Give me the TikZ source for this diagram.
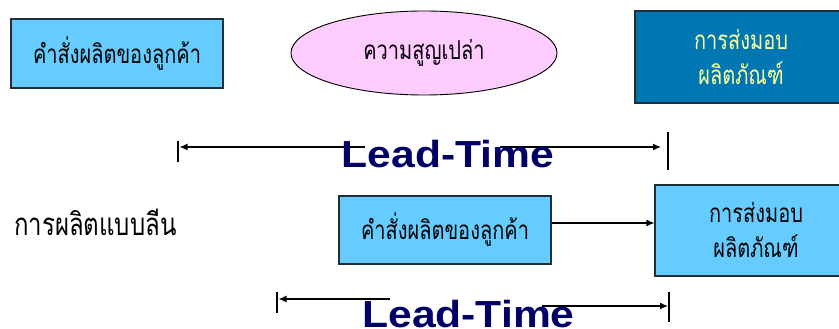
\documentclass[tikz,border=0pt]{standalone}
\usepackage{fontspec}
\setmainfont{Liberation Sans}
\newfontfamily\thaifont[Script=Thai]{Loma}
\usetikzlibrary{arrows.meta,shapes.geometric}

\definecolor{boxblue}{HTML}{66CCFF}
\definecolor{deepblue}{HTML}{0076B2}
\definecolor{wastepink}{HTML}{FFCCFF}
\definecolor{navytext}{HTML}{000066}
\definecolor{paleyellow}{HTML}{FFFF99}
\definecolor{boxedge}{HTML}{1C2F3A}

% Thai labels are set tall and narrow
\newcommand{\talltext}[1]{\scalebox{1}[1.3]{#1}}

\begin{document}
\begin{tikzpicture}[x=1pt,y=-1pt,
  thaitext/.style={font=\thaifont\fontsize{20}{35}\selectfont},
  flowbox/.style={thaitext,draw=boxedge,line width=1.1pt,fill=boxblue,inner sep=0pt,
    align=center},
  deliverbox/.style={thaitext,draw=boxedge,line width=1.1pt,fill=deepblue,inner sep=0pt,
    align=center,text=paleyellow},
  wastebubble/.style={thaitext,ellipse,draw=black,line width=0.9pt,fill=wastepink,
    inner sep=0pt},
  plainlabel/.style={inner sep=0pt,font=\thaifont\fontsize{24}{30}\selectfont},
  leadlabel/.style={inner sep=0pt,anchor=base,text=navytext,
    font=\fontsize{37.7}{40}\selectfont\bfseries},
  tick/.style={line width=1.4pt},
  dimarrow/.style={line width=1.2pt,-{Latex[length=8pt,width=7pt]}},
  flowarrow/.style={line width=1.1pt,-{Latex[length=8pt,width=7pt]}}]
\useasboundingbox (0,0) rectangle (839,329);

% --- conventional flow (top row)
\node[flowbox,minimum width=212pt,minimum height=69pt] (order1) at (117,53.5)
  {\talltext{คำสั่งผลิตของลูกค้า}};
\node[wastebubble,minimum width=266pt,minimum height=84pt] (waste) at (424,53)
  {\talltext{ความสูญเปล่า}};
\node[deliverbox,minimum width=212pt,minimum height=92pt] (deliver1) at (741,57)
  {\talltext{การส่งมอบ}\\\talltext{ผลิตภัณฑ์}};

% lead time of the conventional flow
\coordinate (t1a) at (178,141);
\coordinate (t1b) at (178,162);
\coordinate (t2a) at (668,132);
\coordinate (t2b) at (668,170);
\coordinate (l1s) at (365,147);
\coordinate (l1e) at (179.5,147);
\coordinate (r1s) at (500,147);
\coordinate (r1e) at (661,147);
\draw[tick] (t1a) -- (t1b);
\draw[tick] (t2a) -- (t2b);
\draw[dimarrow] (l1s) -- (l1e);
\draw[dimarrow] (r1s) -- (r1e);
\node[leadlabel] (lead1) at (448,167) {\scalebox{1.13}[1]{Lead-Time}};

% --- lean flow (bottom row)
\node[plainlabel,anchor=west] (leanlabel) at (14,222) {\talltext{การผลิตแบบลีน}};
\node[flowbox,minimum width=212pt,minimum height=68pt] (order2) at (445,230)
  {\talltext{คำสั่งผลิตของลูกค้า}};
\node[flowbox,minimum width=202pt,minimum height=91pt] (deliver2) at (756,230.5)
  {\talltext{การส่งมอบ}\\\talltext{ผลิตภัณฑ์}};
\draw[flowarrow] ([yshift=7pt]order2.east) coordinate (flowstart)
  -- (flowstart -| deliver2.west);

% lead time of the lean flow
\coordinate (t3a) at (277,292);
\coordinate (t3b) at (277,313);
\coordinate (t4a) at (669,292);
\coordinate (t4b) at (669,322);
\coordinate (l2s) at (390,299);
\coordinate (l2e) at (278.5,299);
\coordinate (r2s) at (542,306);
\coordinate (r2e) at (668,306);
\draw[tick] (t3a) -- (t3b);
\draw[tick] (t4a) -- (t4b);
\draw[dimarrow] (l2s) -- (l2e);
\draw[dimarrow] (r2s) -- (r2e);
\node[leadlabel] (lead2) at (468.5,327) {\scalebox{1.13}[1]{Lead-Time}};
\end{tikzpicture}
\end{document}
